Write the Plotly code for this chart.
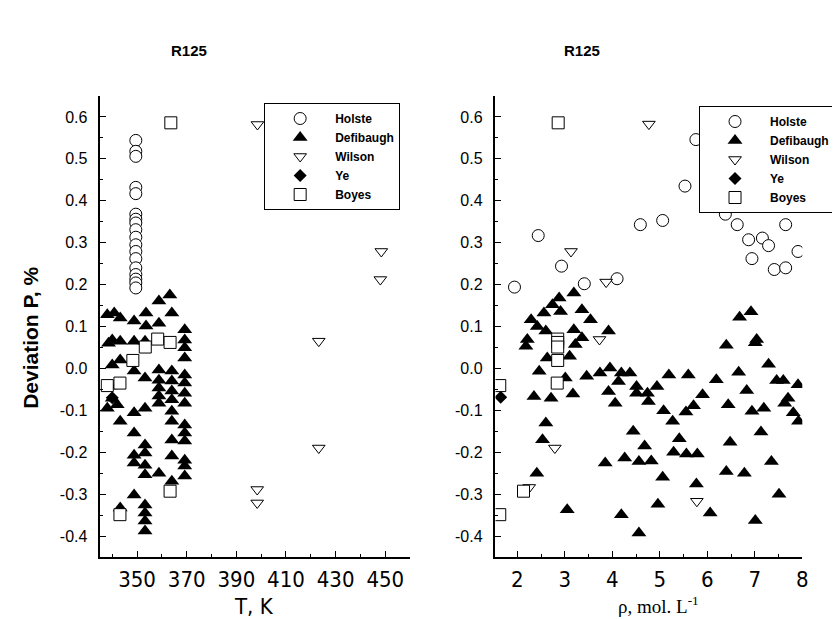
import plotly.graph_objects as go

# ---------------- Left panel (vs temperature) ----------------
holste_T = [349.5] * 18
holste_dev_T = [0.544, 0.518, 0.506, 0.432, 0.417, 0.368, 0.356, 0.347, 0.331,
                0.313, 0.295, 0.279, 0.262, 0.240, 0.224, 0.213, 0.204, 0.192]

defi_T = [340.8, 343.2, 348.8, 353.6, 358.8, 363.2, 364.0, 369.2, 353.6, 358.8,
          369.2, 369.2, 369.2, 340.0, 343.2, 348.8, 353.2, 343.2, 340.0, 348.8,
          353.2, 358.8, 358.8, 358.8, 358.8, 358.8, 364.0, 364.0, 364.0, 364.0,
          369.2, 369.2, 369.2, 369.2, 339.2, 340.0, 342.0, 338.0, 343.2, 348.8,
          353.2, 364.0, 364.0, 369.2, 369.2, 369.2, 348.8, 364.0, 353.2, 348.8,
          353.2, 364.0, 348.8, 353.2, 369.2, 369.2, 353.2, 358.8, 369.2, 348.8,
          353.2, 353.2, 353.2, 353.2, 364.0, 343.2, 338.0, 338.5]
defi_dev_T = [0.132, 0.120, 0.113, 0.132, 0.161, 0.175, 0.132, 0.092, 0.101, 0.108,
              0.068, 0.049, 0.025, 0.068, 0.065, 0.065, 0.065, 0.020, 0.008, -0.006,
              -0.023, -0.004, -0.028, -0.047, -0.066, -0.083, -0.006, -0.030, -0.054, -0.075,
              -0.016, -0.035, -0.059, -0.083, -0.042, -0.071, -0.087, -0.095, -0.126, -0.106,
              -0.095, -0.102, -0.126, -0.135, -0.154, -0.173, -0.154, -0.171, -0.183, -0.207,
              -0.202, -0.209, -0.226, -0.231, -0.219, -0.233, -0.254, -0.250, -0.257, -0.302,
              -0.326, -0.345, -0.364, -0.388, -0.269, -0.333, 0.128, 0.060]

wilson_T = [398.5, 448.4, 448.0, 423.2, 423.2, 398.4, 398.4]
wilson_dev_T = [0.582, 0.279, 0.212, 0.065, -0.190, -0.289, -0.321]

ye_T = [340.0]
ye_dev_T = [-0.070]

boyes_T = [363.6, 358.3, 363.3, 353.3, 348.3, 343.1, 338.0, 363.3, 343.1]
boyes_dev_T = [0.586, 0.070, 0.062, 0.051, 0.019, -0.035, -0.041, -0.293, -0.349]

# ---------------- Right panel (vs density) ----------------
holste_rho = [1.94, 2.44, 2.93, 3.41, 4.10, 4.59, 5.06, 5.53, 5.76, 6.38,
              6.63, 6.87, 6.94, 7.16, 7.29, 7.41, 7.65, 7.65, 7.91]
holste_dev_r = [0.194, 0.317, 0.244, 0.202, 0.214, 0.343, 0.353, 0.435, 0.546, 0.368,
                0.343, 0.307, 0.262, 0.311, 0.293, 0.236, 0.240, 0.343, 0.279]

defi_rho = [2.88, 3.19, 2.74, 2.56, 2.29, 2.91, 3.36, 3.54, 2.42, 2.60,
            3.19, 3.92, 3.36, 2.21, 2.18, 3.22, 2.63, 3.10, 2.46, 3.01,
            3.46, 3.74, 3.95, 4.19, 4.37, 4.13, 4.51, 3.92, 4.51, 2.35,
            2.71, 3.17, 4.06, 2.60, 4.44, 2.53, 3.85, 4.26, 4.56, 2.41,
            3.05, 4.19, 4.56, 4.68, 4.82,
            6.92, 6.68, 7.04, 7.01, 6.40, 7.29, 6.66, 5.19, 5.60, 6.19,
            4.94, 7.46, 7.60, 7.91, 6.83, 4.74, 4.76, 5.90, 7.70, 7.63,
            5.71, 5.55, 6.44, 5.08, 5.27, 6.94, 7.19, 7.81, 7.92, 7.13,
            5.41, 6.48, 5.29, 5.56, 5.79, 7.35, 6.40, 6.78, 5.06, 5.77,
            7.51, 4.96, 6.06, 7.01]
defi_dev_r = [0.168, 0.180, 0.152, 0.132, 0.116, 0.136, 0.140, 0.116, 0.100, 0.089,
              0.092, 0.089, 0.073, 0.069, 0.053, 0.057, 0.025, 0.029, -0.007, -0.023,
              -0.019, -0.011, 0.001, -0.011, -0.011, -0.031, -0.043, -0.055, -0.059, -0.067,
              -0.071, -0.061, -0.083, -0.130, -0.150, -0.170, -0.226, -0.214, -0.222, -0.250,
              -0.337, -0.349, -0.393, -0.185, -0.221,
              0.135, 0.122, 0.069, 0.061, 0.055, 0.010, -0.009, -0.016, -0.016, -0.027,
              -0.043, -0.029, -0.029, -0.039, -0.053, -0.059, -0.079, -0.063, -0.071, -0.083,
              -0.089, -0.104, -0.087, -0.101, -0.126, -0.102, -0.095, -0.106, -0.126, -0.152,
              -0.168, -0.176, -0.200, -0.204, -0.204, -0.222, -0.246, -0.250, -0.260, -0.276,
              -0.300, -0.324, -0.345, -0.363]

wilson_rho = [4.77, 3.13, 3.87, 3.73, 2.79, 2.25, 5.78]
wilson_dev_r = [0.583, 0.279, 0.206, 0.069, -0.190, -0.284, -0.317]

ye_rho = [1.65]
ye_dev_r = [-0.069]

boyes_rho = [2.86, 2.85, 2.85, 2.85, 2.85, 2.84, 1.63, 2.13, 1.63]
boyes_dev_r = [0.586, 0.070, 0.062, 0.051, 0.019, -0.035, -0.041, -0.293, -0.349]

y_ticks = [-0.4, -0.3, -0.2, -0.1, 0.0, 0.1, 0.2, 0.3, 0.4, 0.5, 0.6]
y_ticktext = ["-0.4", "-0.3", "-0.2", "-0.1", "0.0", "0.1", "0.2", "0.3", "0.4", "0.5", "0.6"]

styles = {
    "Holste": dict(symbol="circle", size=12, color="white", line=dict(color="black", width=1)),
    "Defibaugh": dict(symbol="triangle-up", size=13, color="black", line=dict(width=0)),
    "Wilson": dict(symbol="triangle-down", size=11, color="white", line=dict(color="black", width=1)),
    "Ye": dict(symbol="diamond", size=10, color="black", line=dict(width=0)),
    "Boyes": dict(symbol="square", size=12, color="white", line=dict(color="black", width=1)),
}
ranks = {"Holste": 1, "Defibaugh": 2, "Wilson": 3, "Ye": 4, "Boyes": 5}

left_data = {
    "Defibaugh": (defi_T, defi_dev_T),
    "Holste": (holste_T, holste_dev_T),
    "Wilson": (wilson_T, wilson_dev_T),
    "Ye": (ye_T, ye_dev_T),
    "Boyes": (boyes_T, boyes_dev_T),
}
right_data = {
    "Defibaugh": (defi_rho, defi_dev_r),
    "Holste": (holste_rho, holste_dev_r),
    "Wilson": (wilson_rho, wilson_dev_r),
    "Ye": (ye_rho, ye_dev_r),
    "Boyes": (boyes_rho, boyes_dev_r),
}

fig = go.Figure()
for nm, (xs, ys) in left_data.items():
    fig.add_trace(go.Scatter(x=xs, y=ys, mode="markers", name=nm, marker=styles[nm],
                             xaxis="x", yaxis="y", legend="legend", legendrank=ranks[nm]))
for nm, (xs, ys) in right_data.items():
    fig.add_trace(go.Scatter(x=xs, y=ys, mode="markers", name=nm, marker=styles[nm],
                             xaxis="x2", yaxis="y2", legend="legend2", legendrank=ranks[nm]))

W, H = 840, 619
def px(x):
    return x / W
def py(y):
    return 1 - y / H

yd = [py(549), py(88)]
axis_common = dict(showline=True, linecolor="black", linewidth=1.5, showgrid=False,
                   zeroline=False, ticks="inside", ticklen=6, tickwidth=1, tickcolor="black")
xtick_font = dict(family="Liberation Sans Narrow, DejaVu Sans Condensed, Arial Narrow, sans-serif",
                  size=22, color="black")
ytick_font = dict(family="Liberation Sans, Arial, sans-serif", size=16, color="black")

yaxis_common = dict(axis_common, range=[-0.45, 0.65], tickmode="array", tickvals=y_ticks,
                    ticktext=y_ticktext, tickfont=ytick_font, ticklabelstandoff=8,
                    minor=dict(tickmode="linear", tick0=-0.45, dtick=0.05, ticks="inside",
                               ticklen=3, tickcolor="black"))

legend_common = dict(bgcolor="white", bordercolor="black", borderwidth=1,
                     font=dict(family="Liberation Sans, Arial, sans-serif", size=12, color="black",
                               weight="bold"),
                     itemwidth=60, tracegroupgap=0, xanchor="left", yanchor="top",
                     traceorder="normal")

fig.update_layout(
    width=W, height=H, margin=dict(l=0, r=0, t=0, b=0),
    plot_bgcolor="white", paper_bgcolor="white",
    xaxis=dict(axis_common, domain=[px(93), px(405)], range=[335.2, 460], tickmode="linear",
               tick0=350, dtick=20, tickfont=xtick_font, anchor="y", ticklabelstandoff=2,
               minor=dict(tickmode="linear", tick0=340, dtick=10, ticks="inside", ticklen=3,
                          tickcolor="black")),
    yaxis=dict(yaxis_common, domain=yd, anchor="x"),
    xaxis2=dict(axis_common, domain=[px(491), px(800)], range=[1.54, 8.0], tickmode="linear",
                tick0=2, dtick=1, tickfont=xtick_font, anchor="y2", ticklabelstandoff=2,
                minor=dict(tickmode="linear", tick0=1.5, dtick=0.5, ticks="inside", ticklen=3,
                           tickcolor="black")),
    yaxis2=dict(yaxis_common, domain=yd, anchor="x2"),
    legend=dict(legend_common, x=px(258), y=py(95)),
    legend2=dict(legend_common, x=px(696), y=py(98)),
    showlegend=True,
)

title_font = dict(family="Liberation Sans, Arial, sans-serif", size=15, color="black", weight="bold")
fig.add_annotation(text="R125", x=px(182), y=py(42), xref="paper", yref="paper",
                   showarrow=False, font=title_font, xanchor="center", yanchor="middle")
fig.add_annotation(text="R125", x=px(578), y=py(42), xref="paper", yref="paper",
                   showarrow=False, font=title_font, xanchor="center", yanchor="middle")
fig.add_annotation(text="Deviation P, %", x=px(22), y=py(330), xref="paper", yref="paper",
                   showarrow=False, textangle=-90, xanchor="center", yanchor="middle",
                   font=dict(family="Liberation Sans, Arial, sans-serif", size=21, color="black",
                             weight="bold"))
fig.add_annotation(text="T, K", x=px(248), y=py(598), xref="paper", yref="paper",
                   showarrow=False, xanchor="center", yanchor="middle",
                   font=dict(family="Liberation Sans Narrow, DejaVu Sans Condensed, Arial Narrow, sans-serif",
                             size=22, color="black"))
fig.add_annotation(text="ρ, mol. L<sup>-1</sup>", x=px(655), y=py(597), xref="paper", yref="paper",
                   showarrow=False, xanchor="center", yanchor="middle",
                   font=dict(family="Liberation Serif, Times New Roman, serif", size=19, color="black"))

fig.write_html("out.html")
